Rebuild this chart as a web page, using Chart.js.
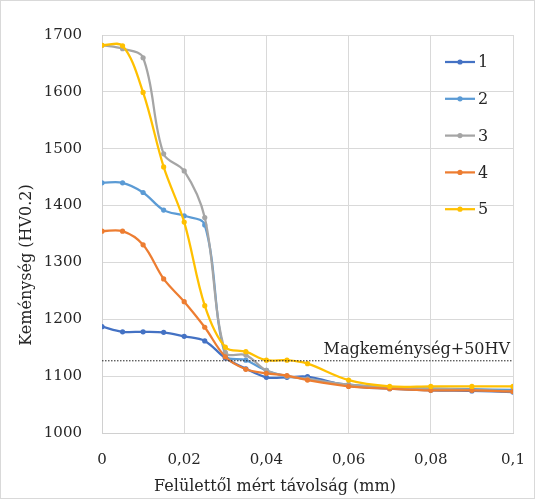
<!DOCTYPE html>
<html>
<head>
<meta charset="utf-8">
<script src="https://cdn.jsdelivr.net/npm/chart.js@4.4.1/dist/chart.umd.min.js"></script>
<style>
  html, body { margin: 0; padding: 0; background: #fff; }
  #wrap { width: 535px; height: 499px; position: relative; }
</style>
</head>
<body>
<div id="wrap"><canvas id="hardnessChart" width="535" height="499"></canvas></div>
<script>
// ---- data ----
const distances = [0, 0.005, 0.01, 0.015, 0.02, 0.025, 0.03, 0.035, 0.04, 0.045, 0.05, 0.06, 0.07, 0.08, 0.09, 0.1];
const seriesNames = ['1', '2', '3', '4', '5'];
const series1 = [1187, 1178, 1178, 1177, 1170, 1162, 1132, 1113, 1098, 1098, 1099, 1083, 1078, 1075, 1074, 1072];
const series2 = [1440, 1440, 1423, 1392, 1382, 1366, 1137, 1128, 1110, 1100, 1095, 1085, 1080, 1078, 1077, 1076];
const series3 = [1682, 1676, 1660, 1491, 1461, 1379, 1142, 1137, 1110, 1100, 1095, 1085, 1080, 1078, 1076, 1073];
const series4 = [1355, 1355, 1331, 1271, 1231, 1186, 1134, 1112, 1105, 1101, 1093, 1082, 1078, 1075, 1075, 1073];
const series5 = [1682, 1681, 1599, 1468, 1371, 1224, 1151, 1143, 1128, 1128, 1122, 1093, 1082, 1082, 1082, 1082];
const refLevel = 1127;
const refLabel = 'Magkeménység+50HV';
const xTicks = [0, 0.02, 0.04, 0.06, 0.08, 0.1];
const yTicks = [1000, 1100, 1200, 1300, 1400, 1500, 1600, 1700];

const colors = ['#4472C4', '#5B9BD5', '#A5A5A5', '#ED7D31', '#FFC000'];
const FONT = "'DejaVu Serif', 'Liberation Serif', serif";

const allSeries = [series1, series2, series3, series4, series5];

// one line dataset per series, later series drawn on top (like Excel)
const datasets = allSeries.map((vals, i) => ({
    label: seriesNames[i],
    data: vals.map((v, k) => ({ x: distances[k], y: v })),
    borderColor: colors[i],
    backgroundColor: colors[i],
    borderWidth: 2.25,
    pointRadius: 2.6,
    pointBorderWidth: 0,
    tension: 0.35,
    order: allSeries.length - i + 1
}));

// dotted reference line
datasets.push({
    label: refLabel,
    data: [{ x: xTicks[0], y: refLevel }, { x: xTicks[xTicks.length - 1], y: refLevel }],
    borderColor: '#222',
    borderWidth: 1,
    borderDash: [1.5, 1.5],
    pointRadius: 0,
    order: 0
});

// ---- custom drawing: frame, axis titles, reference label, legend ----
const decorPlugin = {
    id: 'decor',
    afterDraw(chart) {
        const c = chart.ctx;
        const area = chart.chartArea;
        const ys = chart.scales.y;
        c.save();

        // outer frame
        c.strokeStyle = '#d9d9d9';
        c.lineWidth = 1;
        c.strokeRect(0.5, 0.5, chart.width - 1, chart.height - 1);

        c.fillStyle = '#262626';
        c.font = '16px ' + FONT;

        // x axis title
        c.textAlign = 'center';
        c.textBaseline = 'middle';
        c.fillText('Felülettől mért távolság (mm)', 275, 487);

        // y axis title
        c.save();
        c.translate(27, 265);
        c.rotate(-Math.PI / 2);
        c.fillText('Keménység (HV0.2)', 0, 0);
        c.restore();

        // reference label
        c.textAlign = 'right';
        c.textBaseline = 'alphabetic';
        c.fillText(refLabel, area.right - 3, ys.getPixelForValue(refLevel) - 7);

        // legend (sits over the plot, gridlines show through)
        const lx = 445, lw = 30, top = 62, step = 36.8;
        seriesNames.forEach((name, i) => {
            const y = top + i * step;
            c.strokeStyle = colors[i];
            c.lineWidth = 2.25;
            c.beginPath();
            c.moveTo(lx, y);
            c.lineTo(lx + lw, y);
            c.stroke();
            c.fillStyle = colors[i];
            c.beginPath();
            c.arc(lx + lw / 2, y, 2.6, 0, Math.PI * 2);
            c.fill();
            c.fillStyle = '#262626';
            c.textAlign = 'left';
            c.textBaseline = 'middle';
            c.fillText(name, lx + lw + 3, y + 1);
        });

        c.restore();
    }
};

new Chart(document.getElementById('hardnessChart'), {
    type: 'line',
    data: { datasets },
    options: {
        responsive: false,
        animation: false,
        devicePixelRatio: 1,
        layout: { padding: { top: 35, right: 22, left: 0, bottom: 0 } },
        plugins: {
            legend: { display: false },
            tooltip: { enabled: false }
        },
        scales: {
            x: {
                type: 'linear',
                min: xTicks[0],
                max: xTicks[xTicks.length - 1],
                afterBuildTicks: (s) => { s.ticks = xTicks.map(v => ({ value: v })); },
                afterFit: (s) => { s.height = 66; s.paddingLeft = 0; s.paddingRight = 0; },
                ticks: {
                    padding: 18,
                    color: '#262626',
                    font: { family: FONT, size: 15 },
                    callback: (v) => String(+v.toFixed(3)).replace('.', ',')
                },
                grid: { color: '#d9d9d9', lineWidth: 1, drawTicks: false },
                border: { color: '#d0d0d0' }
            },
            y: {
                min: yTicks[0],
                max: yTicks[yTicks.length - 1],
                afterBuildTicks: (s) => { s.ticks = yTicks.map(v => ({ value: v })); },
                afterFit: (s) => { s.width = 102; },
                ticks: {
                    padding: 20,
                    color: '#262626',
                    font: { family: FONT, size: 15 },
                    callback: (v) => String(v)
                },
                grid: { color: '#d9d9d9', lineWidth: 1, drawTicks: false },
                border: { color: '#d0d0d0' }
            }
        }
    },
    plugins: [decorPlugin]
});
</script>
</body>
</html>
